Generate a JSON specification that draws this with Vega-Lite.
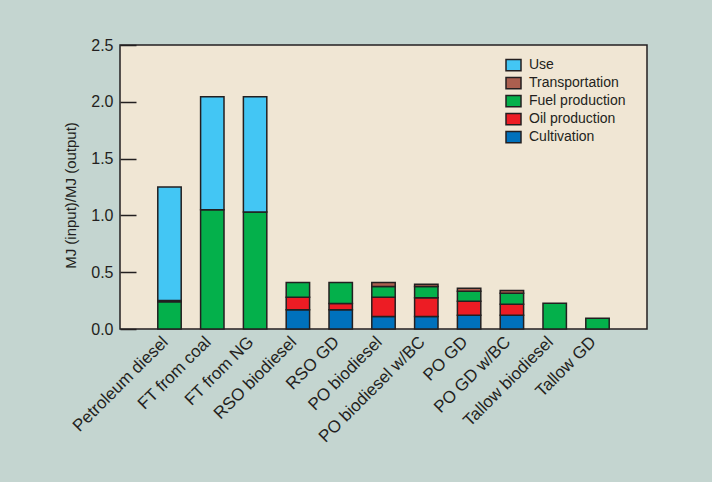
{
  "$schema": "https://vega.github.io/schema/vega-lite/v6.json",
  "width": 527,
  "height": 284,
  "autosize": {"type": "none"},
  "padding": {"left": 120, "top": 45, "right": 65, "bottom": 153},
  "background": "#C4D5D0",
  "config": {
    "font": "Liberation Sans",
    "view": {"fill": "#F0E6D4", "stroke": "#231F20", "strokeWidth": 1.5},
    "axis": {"labelColor": "#231F20", "titleColor": "#231F20", "labelFont": "Liberation Sans", "titleFont": "Liberation Sans"},
    "legend": {"labelColor": "#231F20", "labelFont": "Liberation Sans"}
  },
  "data": {
    "values": [
      {"source": "Petroleum diesel", "component": "Fuel production", "k": 3, "value": 0.24},
      {"source": "Petroleum diesel", "component": "Transportation", "k": 4, "value": 0.01},
      {"source": "Petroleum diesel", "component": "Use", "k": 5, "value": 1.0},
      {"source": "FT from coal", "component": "Fuel production", "k": 3, "value": 1.05},
      {"source": "FT from coal", "component": "Use", "k": 5, "value": 0.995},
      {"source": "FT from NG", "component": "Fuel production", "k": 3, "value": 1.03},
      {"source": "FT from NG", "component": "Use", "k": 5, "value": 1.015},
      {"source": "RSO biodiesel", "component": "Cultivation", "k": 1, "value": 0.17},
      {"source": "RSO biodiesel", "component": "Oil production", "k": 2, "value": 0.11},
      {"source": "RSO biodiesel", "component": "Fuel production", "k": 3, "value": 0.13},
      {"source": "RSO GD", "component": "Cultivation", "k": 1, "value": 0.17},
      {"source": "RSO GD", "component": "Oil production", "k": 2, "value": 0.055},
      {"source": "RSO GD", "component": "Fuel production", "k": 3, "value": 0.185},
      {"source": "PO biodiesel", "component": "Cultivation", "k": 1, "value": 0.11},
      {"source": "PO biodiesel", "component": "Oil production", "k": 2, "value": 0.17},
      {"source": "PO biodiesel", "component": "Fuel production", "k": 3, "value": 0.095},
      {"source": "PO biodiesel", "component": "Transportation", "k": 4, "value": 0.035},
      {"source": "PO biodiesel w/BC", "component": "Cultivation", "k": 1, "value": 0.11},
      {"source": "PO biodiesel w/BC", "component": "Oil production", "k": 2, "value": 0.165},
      {"source": "PO biodiesel w/BC", "component": "Fuel production", "k": 3, "value": 0.1},
      {"source": "PO biodiesel w/BC", "component": "Transportation", "k": 4, "value": 0.018},
      {"source": "PO GD", "component": "Cultivation", "k": 1, "value": 0.12},
      {"source": "PO GD", "component": "Oil production", "k": 2, "value": 0.124},
      {"source": "PO GD", "component": "Fuel production", "k": 3, "value": 0.088},
      {"source": "PO GD", "component": "Transportation", "k": 4, "value": 0.026},
      {"source": "PO GD w/BC", "component": "Cultivation", "k": 1, "value": 0.12},
      {"source": "PO GD w/BC", "component": "Oil production", "k": 2, "value": 0.097},
      {"source": "PO GD w/BC", "component": "Fuel production", "k": 3, "value": 0.097},
      {"source": "PO GD w/BC", "component": "Transportation", "k": 4, "value": 0.026},
      {"source": "Tallow biodiesel", "component": "Fuel production", "k": 3, "value": 0.226},
      {"source": "Tallow GD", "component": "Fuel production", "k": 3, "value": 0.094}
    ]
  },
  "mark": {"type": "bar", "stroke": "#231F20", "strokeWidth": 1.5},
  "encoding": {
    "x": {
      "field": "source",
      "type": "nominal",
      "sort": ["Petroleum diesel", "FT from coal", "FT from NG", "RSO biodiesel", "RSO GD", "PO biodiesel", "PO biodiesel w/BC", "PO GD", "PO GD w/BC", "Tallow biodiesel", "Tallow GD"],
      "scale": {"paddingInner": 0.453, "paddingOuter": 0.883},
      "axis": {
        "title": null,
        "domain": false,
        "ticks": false,
        "labelAngle": -45,
        "labelAlign": "right",
        "labelBaseline": "middle",
        "labelPadding": 10,
        "labelOffset": -4,
        "labelFontSize": 17
      }
    },
    "y": {
      "field": "value",
      "type": "quantitative",
      "stack": "zero",
      "scale": {"domain": [0, 2.5], "nice": false},
      "axis": {
        "title": "MJ (input)/MJ (output)",
        "titleFontSize": 15,
        "titleFontWeight": "normal",
        "titleX": -50,
        "titleY": 150,
        "titleAlign": "center",
        "titleBaseline": "middle",
        "values": [0, 0.5, 1, 1.5, 2, 2.5],
        "format": ".1f",
        "domain": false,
        "grid": false,
        "tickSize": -16,
        "tickColor": "#231F20",
        "tickWidth": 1.5,
        "labelPadding": 23,
        "labelFontSize": 16
      }
    },
    "color": {
      "field": "component",
      "type": "nominal",
      "scale": {
        "domain": ["Use", "Transportation", "Fuel production", "Oil production", "Cultivation"],
        "range": ["#43C6F4", "#AB5F4F", "#04B04B", "#ED1C24", "#0071BC"]
      },
      "legend": {
        "title": null,
        "orient": "none",
        "legendX": 385,
        "legendY": 11.5,
        "padding": 0,
        "symbolType": "M-1,-0.75H1V0.75H-1Z",
        "symbolSize": 225,
        "symbolStrokeColor": "#231F20",
        "symbolStrokeWidth": 1.5,
        "symbolOpacity": 1,
        "labelFontSize": 14,
        "labelOffset": 7,
        "rowPadding": -2
      }
    },
    "order": {"field": "k", "type": "quantitative"}
  }
}
